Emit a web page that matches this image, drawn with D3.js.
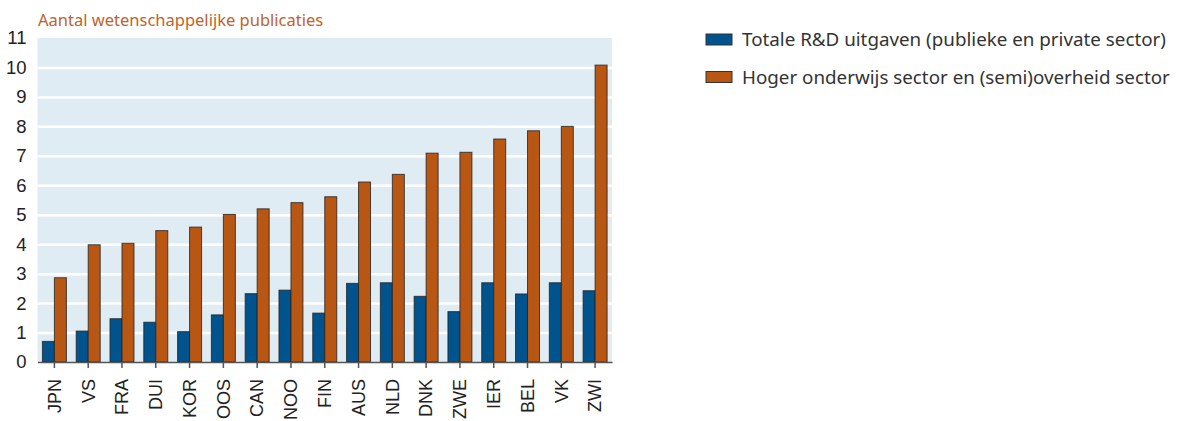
<html>
<head>
<script src="https://d3js.org/d3.v7.min.js"></script>
<style>
  body { margin: 0; background: #fff; }
  .gridlines line { stroke: #fff; stroke-width: 2.5; }
  .gridlines .domain { stroke: none; }
</style>
</head>
<body>
<svg id="chart" width="1178" height="421"></svg>
<script>
// data
const countries = ["JPN","VS","FRA","DUI","KOR","OOS","CAN","NOO","FIN","AUS","NLD","DNK","ZWE","IER","BEL","VK","ZWI"];
const totalRD = [0.7,1.05,1.47,1.35,1.03,1.6,2.32,2.44,1.66,2.67,2.69,2.23,1.71,2.69,2.31,2.69,2.42];
const higherEdGov = [2.86,3.98,4.03,4.46,4.58,5.01,5.2,5.41,5.61,6.11,6.37,7.09,7.12,7.57,7.85,8.0,10.08];
const seriesNames = ["Totale R&D uitgaven (publieke en private sector)", "Hoger onderwijs sector en (semi)overheid sector"];
const seriesColors = ["#00538c", "#b85614"];
const yTicks = [0,1,2,3,4,5,6,7,8,9,10,11];

const svg = d3.select("svg#chart");
const margin = {top: 38, left: 37.5, right: 566, bottom: 59};
const chartWidth = 1178 - margin.left - margin.right;
const chartHeight = 421 - margin.top - margin.bottom;

const xScale = d3.scaleBand().domain(countries).range([0, chartWidth]).paddingInner(0.29).paddingOuter(0.145);
const subScale = d3.scaleBand().domain([0, 1]).range([0, xScale.bandwidth()]);
const yScale = d3.scaleLinear().domain([0, 11]).range([chartHeight, 0]);

const chart = svg.append("g").attr("transform", "translate(" + margin.left + "," + margin.top + ")");

// background
chart.append("rect")
  .attr("x", 0).attr("y", 0)
  .attr("width", chartWidth).attr("height", chartHeight)
  .attr("fill", "#e0ecf3");

// gridlines
chart.append("g").attr("class", "gridlines")
  .call(d3.axisLeft(yScale).tickValues(yTicks.slice(1, -1)).tickSize(-chartWidth).tickFormat(""));

// bars
const series = [totalRD, higherEdGov];
series.forEach((vals, s) => {
  chart.append("g").selectAll("rect")
    .data(countries)
    .join("rect")
    .attr("x", d => xScale(d) + subScale(s))
    .attr("y", (d, i) => yScale(vals[i]))
    .attr("width", subScale.bandwidth())
    .attr("height", (d, i) => chartHeight - yScale(vals[i]))
    .attr("fill", seriesColors[s])
    .attr("stroke", "#222")
    .attr("stroke-opacity", 0.8)
    .attr("stroke-width", 1);
});

// y axis labels
const leftAxis = d3.axisLeft(yScale).tickValues(yTicks).tickSize(0).tickPadding(11).tickFormat(d3.format("d"));
const yAxisG = chart.append("g").call(leftAxis);
yAxisG.select(".domain").remove();
yAxisG.selectAll("text").attr("font-family", "Liberation Sans, Arial, sans-serif").attr("font-size", 18.5).attr("fill", "#222");

// x axis
const bottomAxis = d3.axisBottom(xScale).tickSizeOuter(0).tickSizeInner(6).tickPadding(8);
const xAxisG = chart.append("g").attr("transform", "translate(0," + chartHeight + ")").call(bottomAxis);
xAxisG.select(".domain").attr("stroke", "#555").attr("stroke-width", 1.5);
xAxisG.selectAll(".tick line").attr("stroke", "#555").attr("stroke-width", 1.5);
xAxisG.selectAll("text")
  .attr("font-family", "Liberation Sans, Arial, sans-serif")
  .attr("font-size", 18)
  .attr("fill", "#222")
  .attr("transform", "rotate(-90)")
  .attr("text-anchor", "end")
  .attr("x", -17)
  .attr("y", 0)
  .attr("dy", "0.35em");

// title
svg.append("text")
  .attr("x", 38).attr("y", 26)
  .attr("font-family", "Noto Sans, sans-serif")
  .attr("font-size", 16.5)
  .attr("fill", "#c0622a")
  .text("Aantal wetenschappelijke publicaties");

// legend
const legend = svg.append("g").attr("transform", "translate(706,34)");
seriesNames.forEach((name, i) => {
  const row = legend.append("g").attr("transform", "translate(0," + (i * 37.5) + ")");
  row.append("rect")
    .attr("width", 26).attr("height", 11)
    .attr("fill", seriesColors[i])
    .attr("stroke", "#333").attr("stroke-width", 1);
  row.append("text")
    .attr("x", 36).attr("y", 12)
    .attr("font-family", "Noto Sans, sans-serif")
    .attr("font-size", 18.8)
    .attr("fill", "#333")
    .text(name);
});
</script>
</body>
</html>
